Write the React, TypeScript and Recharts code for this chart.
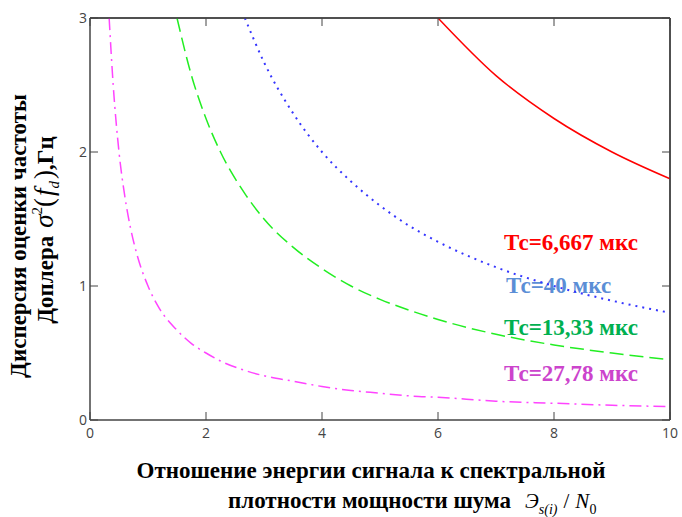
import React from 'react';
import { LineChart, Line, XAxis, YAxis, ReferenceLine } from 'recharts';

// Signal energy / noise PSD ratio (x) and Doppler variance per Tc
const xValues = [0.33, 0.4, 0.5, 0.6, 0.7, 0.8, 1, 1.2, 1.5, 1.75, 2, 2.25, 2.67, 3, 3.5, 4, 4.5, 5, 5.5, 6, 7, 8, 9, 10];
const tc27 = [3.0, 2.5, 2.0, 1.67, 1.43, 1.25, 1.0, 0.83, 0.67, 0.57, 0.5, 0.44, 0.37, 0.33, 0.29, 0.25, 0.22, 0.2, 0.18, 0.17, 0.14, 0.125, 0.11, 0.1];
const tc13 = [null, null, null, null, null, null, null, null, 3.0, 2.57, 2.25, 2.0, 1.69, 1.5, 1.29, 1.13, 1.0, 0.9, 0.82, 0.75, 0.64, 0.56, 0.5, 0.45];
const tc10 = [null, null, null, null, null, null, null, null, null, null, null, null, 3.0, 2.67, 2.29, 2.0, 1.78, 1.6, 1.45, 1.33, 1.14, 1.0, 0.89, 0.8];
const tc6 = [null, null, null, null, null, null, null, null, null, null, null, null, null, null, null, null, null, null, null, 3.0, 2.57, 2.25, 2.0, 1.8];

const xTicks = [0, 2, 4, 6, 8, 10];
const yTicks = [0, 1, 2, 3];

const data = xValues.map((x, i) => ({ x, a: tc6[i], b: tc10[i], c: tc13[i], d: tc27[i] }));

const SERIF = 'Liberation Serif, DejaVu Serif, Times New Roman, serif';
const SANS = 'Open Sans, DejaVu Sans, sans-serif';
const AXIS = '#444';

const NoTick = () => <g />;

function Texts() {
  return (
    <svg width={682} height={517} style={{ position: 'absolute', left: 0, top: 0 }}>
      <g fontFamily={SERIF} fontWeight="bold" fontSize={23}>
        <text x={504} y={250} fill="#ff0000">Тс=6,667 мкс</text>
        <text x={506} y={293} fill="#5b8ed6">Тс=40 мкс</text>
        <text x={504} y={335} fill="#00b050">Тс=13,33 мкс</text>
        <text x={504} y={381} fill="#cc44cc">Тс=27,78 мкс</text>
      </g>
      <g fontFamily={SERIF} fill="#000">
        <text x={371} y={478} textAnchor="middle" fontWeight="bold" fontSize={23}>Отношение энергии сигнала к спектральной</text>
        <text x={228} y={508} fontWeight="bold" fontSize={23}>
          плотности мощности шума
          <tspan dx={14} fontWeight="normal" fontStyle="italic" fontSize={21}>Э</tspan>
          <tspan dy={6} fontWeight="normal" fontStyle="italic" fontSize={14}>s(i)</tspan>
          <tspan dy={-6} dx={6} fontWeight="normal" fontSize={21}>/</tspan>
          <tspan dx={6} fontWeight="normal" fontStyle="italic" fontSize={21}>N</tspan>
          <tspan dy={6} fontWeight="normal" fontSize={14}>0</tspan>
        </text>
      </g>
      <g fontFamily={SERIF} fill="#000">
        <text transform="translate(26,236) rotate(-90)" textAnchor="middle" fontWeight="bold" fontSize={23}>Дисперсия оценки частоты</text>
        <text transform="translate(53,230) rotate(-90)" textAnchor="middle" fontWeight="bold" fontSize={23}>
          Доплера
          <tspan dx={8} fontWeight="normal" fontStyle="italic" fontSize={27}>σ</tspan>
          <tspan dy={-11} fontWeight="normal" fontSize={15}>2</tspan>
          <tspan dy={11} fontWeight="normal" fontSize={27}>(</tspan>
          <tspan dx={2} fontWeight="normal" fontStyle="italic" fontSize={27}>f</tspan>
          <tspan dy={6} fontWeight="normal" fontStyle="italic" fontSize={15}>d</tspan>
          <tspan dy={-6} dx={2} fontWeight="normal" fontSize={27}>)</tspan>
          <tspan>,Гц</tspan>
        </text>
      </g>
    </svg>
  );
}

export default function App() {
  return (
    <div style={{ position: 'absolute', left: 0, top: 0, width: 682, height: 517 }}>
      <Texts />
      <div style={{ position: 'absolute', left: 0, top: 0, fontFamily: SANS, fontSize: 14 }}>
        <LineChart width={682} height={517} data={data} margin={{ top: 0, right: 0, left: 0, bottom: 67 }}>
          <XAxis
            dataKey="x"
            type="number"
            domain={[0, 10]}
            ticks={xTicks}
            height={30}
            tickSize={-8}
            tickMargin={16}
            stroke={AXIS}
            axisLine={{ strokeWidth: 1.5 }}
          />
          <XAxis
            xAxisId="top"
            orientation="top"
            dataKey="x"
            type="number"
            domain={[0, 10]}
            ticks={xTicks}
            height={18}
            tickSize={-8}
            tick={NoTick}
            stroke={AXIS}
            axisLine={{ strokeWidth: 1.5 }}
          />
          <YAxis
            type="number"
            domain={[0, 3]}
            ticks={yTicks}
            width={90}
            tickSize={-8}
            tickMargin={11}
            stroke={AXIS}
            axisLine={{ strokeWidth: 1.5 }}
          />
          <YAxis
            yAxisId="right"
            orientation="right"
            type="number"
            domain={[0, 3]}
            ticks={yTicks}
            width={12}
            tickSize={-8}
            tick={NoTick}
            stroke={AXIS}
            axisLine={{ strokeWidth: 1.5 }}
          />
          <ReferenceLine y={3} stroke={AXIS} strokeWidth={1.5} />
          <ReferenceLine x={10} stroke={AXIS} strokeWidth={1.5} />
          <Line xAxisId="top" yAxisId="right" dataKey="a" type="monotone" stroke="#ff0000" strokeWidth={1.5} dot={false} isAnimationActive={false} />
          <Line dataKey="b" type="monotone" stroke="#3535ff" strokeWidth={2} strokeDasharray="2 5" dot={false} isAnimationActive={false} />
          <Line dataKey="c" type="monotone" stroke="#22ee22" strokeWidth={1.5} strokeDasharray="14 6" dot={false} isAnimationActive={false} />
          <Line dataKey="d" type="monotone" stroke="#ff44ff" strokeWidth={1.5} strokeDasharray="12 5 2 5" dot={false} isAnimationActive={false} />
        </LineChart>
      </div>
    </div>
  );
}
